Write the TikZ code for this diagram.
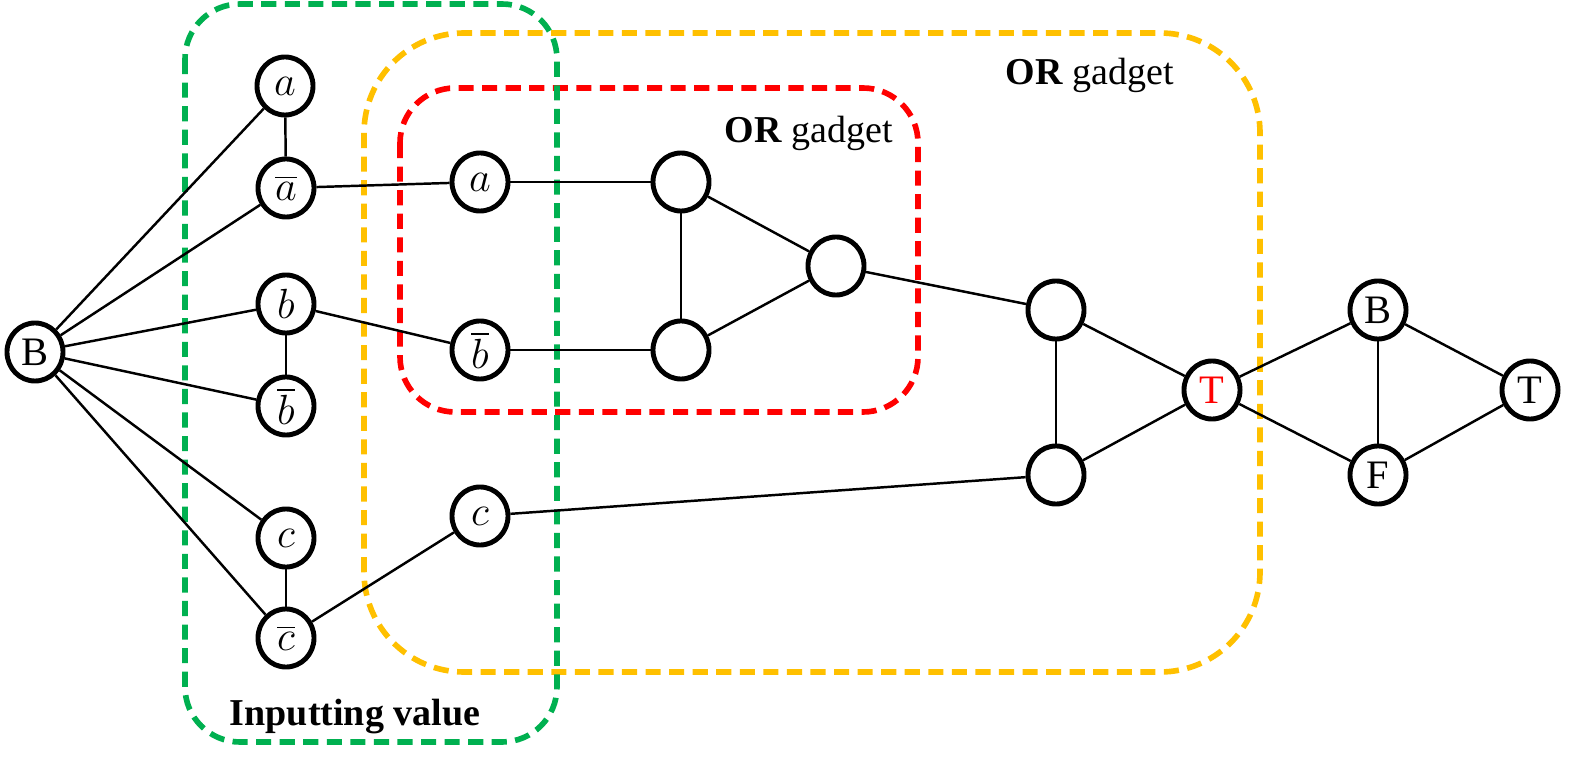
\documentclass[tikz,border=0pt]{standalone}
\usepackage{fontspec}
\setmainfont{Liberation Serif}
\usetikzlibrary{shapes.geometric}
\definecolor{ingreen}{HTML}{00B050}
\definecolor{ororange}{HTML}{FFC000}
\definecolor{orred}{HTML}{FF0000}
\tikzstyle{vertex}=[ellipse, draw, fill=white, line width=1.4pt, inner sep=0pt, minimum width=0.56cm, minimum height=0.58cm, font=\fontsize{11.5}{13}\selectfont]
\tikzstyle{region}=[line width=1.6pt, dash pattern=on 4.3pt off 2.4pt]
\tikzstyle{caption}=[inner sep=0pt, anchor=base, font=\fontsize{10.8}{13}\selectfont]
\newcommand{\vertex}{\node[vertex]}

\begin{document}
\begin{tikzpicture}[x=0.01cm, y=-0.01cm, every edge/.append style={line width=0.7pt}]
	\useasboundingbox (0,0) rectangle (1570,758);
	%% the gadget regions
	\draw[region, ororange, rounded corners=1cm] (364,33) rectangle (1260,672);
	\draw[region, orred, rounded corners=0.55cm] (400,88) rectangle (918,412);
	\draw[region, ingreen, rounded corners=0.55cm] (185,4) rectangle (557,742);
	\node[caption] (outerlbl) at (1090,85) {\textbf{OR} gadget};
	\node[caption] (innerlbl) at (809,143) {\textbf{OR} gadget};
	\node[caption] (inputlbl) at (355,725) {\textbf{Inputting value}};
	%% the vertices
	\vertex (B) at (35,352) {B};
	\vertex (a) at (285,86) {$a$};
	\vertex (na) at (286,188) {$\overline{a}$};
	\vertex (b) at (286,304) {$b$};
	\vertex (nb) at (286,406) {$\overline{b}$};
	\vertex (c) at (286,538) {$c$};
	\vertex (nc) at (286,638) {$\overline{c}$};
	\vertex (ia) at (480,182) {$a$};
	\vertex (inb) at (480,350) {$\overline{b}$};
	\vertex (ic) at (480,516) {$c$};
	\vertex (p1) at (681,182) {};
	\vertex (q1) at (681,350) {};
	\vertex (r1) at (836,266) {};
	\vertex (p2) at (1056,310) {};
	\vertex (q2) at (1056,475) {};
	\vertex (out) at (1212,390) {\textcolor{orred}{T}};
	\vertex (B2) at (1378,310) {B};
	\vertex (F) at (1378,475) {F};
	\vertex (T) at (1530,390) {T};
	%% for the edges
	\path
		(B) edge (a)
		(B) edge (na)
		(B) edge (b)
		(B) edge (nb)
		(B) edge (c)
		(B) edge (nc)
		(a) edge (na)
		(b) edge (nb)
		(c) edge (nc)
		(na) edge (ia)
		(b) edge (inb)
		(nc) edge (ic)
		(ia) edge (p1)
		(inb) edge (q1)
		(p1) edge (q1)
		(p1) edge (r1)
		(q1) edge (r1)
		(r1) edge (p2)
		(ic) edge (q2)
		(p2) edge (q2)
		(p2) edge (out)
		(q2) edge (out)
		(out) edge (B2)
		(out) edge (F)
		(B2) edge (F)
		(B2) edge (T)
		(F) edge (T)
		;
\end{tikzpicture}
\end{document}
